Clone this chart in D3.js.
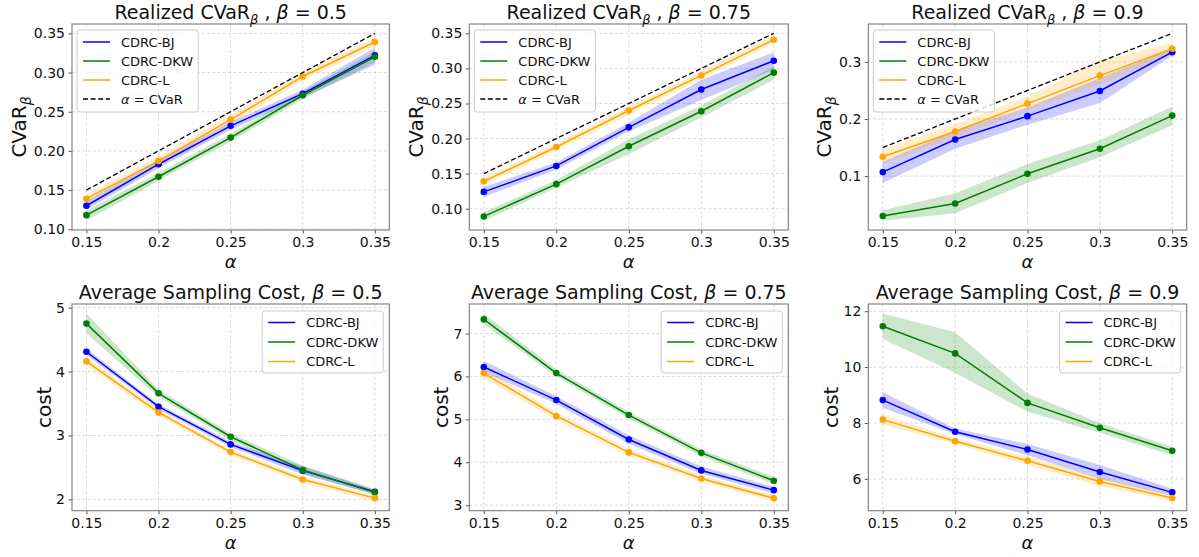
<!DOCTYPE html>
<html><head><meta charset="utf-8">
<script src="https://cdn.jsdelivr.net/npm/d3@7"></script>
<style>
body{margin:0;background:#fff;}
svg{font-family:"DejaVu Sans",sans-serif;}
</style></head><body>
<svg id="chart" width="1199" height="557"></svg>
<script>
// ---------- data ----------
const alphas = [0.15, 0.2, 0.25, 0.3, 0.35];
const alphaTickLabels = ["0.15", "0.2", "0.25", "0.3", "0.35"];
const betas = ["0.5", "0.75", "0.9"];
const seriesNames = ["CDRC-BJ", "CDRC-DKW", "CDRC-L"];
const identityLabel = "CVaR";

// Realized CVaR, beta = 0.5
const cvar05BJ    = [0.130, 0.183, 0.232, 0.273, 0.322];
const cvar05BJLo  = [0.125, 0.178, 0.227, 0.268, 0.310];
const cvar05BJHi  = [0.136, 0.189, 0.237, 0.278, 0.332];
const cvar05DKW   = [0.118, 0.167, 0.217, 0.271, 0.320];
const cvar05DKWLo = [0.111, 0.162, 0.212, 0.266, 0.313];
const cvar05DKWHi = [0.124, 0.172, 0.222, 0.276, 0.327];
const cvar05L     = [0.139, 0.187, 0.240, 0.295, 0.339];
const cvar05LLo   = [0.133, 0.181, 0.234, 0.290, 0.333];
const cvar05LHi   = [0.145, 0.193, 0.246, 0.300, 0.345];

// Realized CVaR, beta = 0.75
const cvar075BJ    = [0.124, 0.161, 0.216, 0.270, 0.311];
const cvar075BJLo  = [0.117, 0.156, 0.210, 0.255, 0.298];
const cvar075BJHi  = [0.131, 0.166, 0.223, 0.284, 0.323];
const cvar075DKW   = [0.089, 0.135, 0.189, 0.239, 0.294];
const cvar075DKWLo = [0.083, 0.130, 0.178, 0.230, 0.284];
const cvar075DKWHi = [0.095, 0.141, 0.199, 0.247, 0.303];
const cvar075L     = [0.139, 0.188, 0.240, 0.290, 0.341];
const cvar075LLo   = [0.134, 0.183, 0.234, 0.285, 0.336];
const cvar075LHi   = [0.144, 0.193, 0.246, 0.296, 0.347];

// Realized CVaR, beta = 0.9
const cvar09BJ    = [0.107, 0.164, 0.205, 0.249, 0.317];
const cvar09BJLo  = [0.088, 0.148, 0.190, 0.228, 0.311];
const cvar09BJHi  = [0.125, 0.180, 0.220, 0.272, 0.324];
const cvar09DKW   = [0.030, 0.052, 0.104, 0.148, 0.206];
const cvar09DKWLo = [0.022, 0.035, 0.088, 0.133, 0.189];
const cvar09DKWHi = [0.040, 0.070, 0.121, 0.163, 0.222];
const cvar09L     = [0.134, 0.178, 0.227, 0.276, 0.323];
const cvar09LLo   = [0.121, 0.168, 0.214, 0.260, 0.314];
const cvar09LHi   = [0.147, 0.191, 0.240, 0.302, 0.333];

// Average sampling cost, beta = 0.5
const cost05BJ    = [4.31, 3.45, 2.86, 2.45, 2.12];
const cost05BJLo  = [4.26, 3.41, 2.82, 2.39, 2.08];
const cost05BJHi  = [4.36, 3.49, 2.90, 2.52, 2.16];
const cost05DKW   = [4.75, 3.66, 2.98, 2.46, 2.11];
const cost05DKWLo = [4.60, 3.60, 2.93, 2.40, 2.07];
const cost05DKWHi = [4.91, 3.72, 3.03, 2.53, 2.15];
const cost05L     = [4.16, 3.36, 2.74, 2.31, 2.02];
const cost05LLo   = [4.10, 3.31, 2.69, 2.26, 1.97];
const cost05LHi   = [4.22, 3.41, 2.78, 2.36, 2.06];

// Average sampling cost, beta = 0.75
const cost075BJ    = [6.22, 5.45, 4.53, 3.81, 3.35];
const cost075BJLo  = [6.10, 5.36, 4.43, 3.73, 3.27];
const cost075BJHi  = [6.36, 5.54, 4.63, 3.90, 3.43];
const cost075DKW   = [7.33, 6.08, 5.10, 4.22, 3.57];
const cost075DKWLo = [7.22, 6.00, 5.02, 4.14, 3.49];
const cost075DKWHi = [7.47, 6.16, 5.18, 4.30, 3.66];
const cost075L     = [6.08, 5.08, 4.23, 3.62, 3.16];
const cost075LLo   = [5.96, 4.99, 4.15, 3.55, 3.09];
const cost075LHi   = [6.20, 5.16, 4.31, 3.69, 3.23];

// Average sampling cost, beta = 0.9
const cost09BJ    = [8.82, 7.69, 7.05, 6.25, 5.52];
const cost09BJLo  = [8.55, 7.60, 6.85, 6.00, 5.40];
const cost09BJHi  = [9.10, 7.80, 7.25, 6.50, 5.65];
const cost09DKW   = [11.46, 10.49, 8.72, 7.83, 7.01];
const cost09DKWLo = [11.00, 9.80, 8.40, 7.65, 6.85];
const cost09DKWHi = [11.92, 11.25, 9.05, 8.00, 7.15];
const cost09L     = [8.12, 7.35, 6.65, 5.91, 5.32];
const cost09LLo   = [7.95, 7.25, 6.50, 5.75, 5.20];
const cost09LHi   = [8.30, 7.45, 6.80, 6.05, 5.45];

// y tick values / labels
const cvarTicksA = [0.10, 0.15, 0.20, 0.25, 0.30, 0.35];
const cvarTickLabelsA = ["0.10", "0.15", "0.20", "0.25", "0.30", "0.35"];
const cvarTicksB = [0.1, 0.2, 0.3];
const cvarTickLabelsB = ["0.1", "0.2", "0.3"];
const costTicks05 = [2, 3, 4, 5];
const costTicks075 = [3, 4, 5, 6, 7];
const costTicks09 = [6, 8, 10, 12];

// ---------- styling / layout ----------
const seriesColors = ["#0000ff", "#008000", "#ffa500"];
const colLeft = [72, 469.3, 868.3];
const colRight = [389.3, 788.3, 1186.7];
const rowTop = [24, 304];
const rowBottom = [230, 510.7];

const mk = (m, lo, hi) => alphas.map((a, i) => ({a, v: m[i], lo: lo[i], hi: hi[i]}));

const panels = [
  {row: 0, col: 0, kind: "cvar", beta: betas[0], ticks: cvarTicksA, tickLabels: cvarTickLabelsA,
   series: [mk(cvar05BJ, cvar05BJLo, cvar05BJHi), mk(cvar05DKW, cvar05DKWLo, cvar05DKWHi), mk(cvar05L, cvar05LLo, cvar05LHi)]},
  {row: 0, col: 1, kind: "cvar", beta: betas[1], ticks: cvarTicksA, tickLabels: cvarTickLabelsA,
   series: [mk(cvar075BJ, cvar075BJLo, cvar075BJHi), mk(cvar075DKW, cvar075DKWLo, cvar075DKWHi), mk(cvar075L, cvar075LLo, cvar075LHi)]},
  {row: 0, col: 2, kind: "cvar", beta: betas[2], ticks: cvarTicksB, tickLabels: cvarTickLabelsB,
   series: [mk(cvar09BJ, cvar09BJLo, cvar09BJHi), mk(cvar09DKW, cvar09DKWLo, cvar09DKWHi), mk(cvar09L, cvar09LLo, cvar09LHi)]},
  {row: 1, col: 0, kind: "cost", beta: betas[0], ticks: costTicks05, tickLabels: costTicks05.map(String),
   series: [mk(cost05BJ, cost05BJLo, cost05BJHi), mk(cost05DKW, cost05DKWLo, cost05DKWHi), mk(cost05L, cost05LLo, cost05LHi)]},
  {row: 1, col: 1, kind: "cost", beta: betas[1], ticks: costTicks075, tickLabels: costTicks075.map(String),
   series: [mk(cost075BJ, cost075BJLo, cost075BJHi), mk(cost075DKW, cost075DKWLo, cost075DKWHi), mk(cost075L, cost075LLo, cost075LHi)]},
  {row: 1, col: 2, kind: "cost", beta: betas[2], ticks: costTicks09, tickLabels: costTicks09.map(String),
   series: [mk(cost09BJ, cost09BJLo, cost09BJHi), mk(cost09DKW, cost09DKWLo, cost09DKWHi), mk(cost09L, cost09LLo, cost09LHi)]}
];

const svg = d3.select("#chart");
svg.append("rect").attr("width", 1199).attr("height", 557).attr("fill", "#fff");

panels.forEach((p, pi) => {
  const L = colLeft[p.col], R = colRight[p.col], T = rowTop[p.row], B = rowBottom[p.row];
  const g = svg.append("g");

  // x domain with 5% margins
  const xPad = (alphas[alphas.length - 1] - alphas[0]) * 0.05;
  const x = d3.scaleLinear().domain([alphas[0] - xPad, alphas[alphas.length - 1] + xPad]).range([L, R]);

  // y domain: data extent (+ identity line) with 5% margins
  let ymin = d3.min(p.series.flat(), d => d.lo), ymax = d3.max(p.series.flat(), d => d.hi);
  if (p.kind === "cvar") { ymin = Math.min(ymin, alphas[0]); ymax = Math.max(ymax, alphas[alphas.length - 1]); }
  const yPad = (ymax - ymin) * 0.05;
  const y = d3.scaleLinear().domain([ymin - yPad, ymax + yPad]).range([B, T]);

  // grid
  g.append("g").selectAll("line").data(alphas).join("line")
    .attr("x1", d => x(d)).attr("x2", d => x(d)).attr("y1", T).attr("y2", B)
    .attr("stroke", "#d0d0d0").attr("stroke-width", 0.8).attr("stroke-dasharray", "3,2.2");
  g.append("g").selectAll("line").data(p.ticks).join("line")
    .attr("x1", L).attr("x2", R).attr("y1", d => y(d)).attr("y2", d => y(d))
    .attr("stroke", "#d0d0d0").attr("stroke-width", 0.8).attr("stroke-dasharray", "3,2.2");

  const clipId = "clip" + pi;
  g.append("clipPath").attr("id", clipId).append("rect")
    .attr("x", L).attr("y", T).attr("width", R - L).attr("height", B - T);
  const plot = g.append("g").attr("clip-path", `url(#${clipId})`);

  const area = d3.area().x(d => x(d.a)).y0(d => y(d.lo)).y1(d => y(d.hi));
  const line = d3.line().x(d => x(d.a)).y(d => y(d.v));

  p.series.forEach((s, si) => {
    plot.append("path").datum(s).attr("d", area)
      .attr("fill", seriesColors[si]).attr("fill-opacity", 0.2).attr("stroke", "none");
  });
  p.series.forEach((s, si) => {
    plot.append("path").datum(s).attr("d", line)
      .attr("fill", "none").attr("stroke", seriesColors[si]).attr("stroke-width", 1.5);
    plot.append("g").selectAll("circle").data(s).join("circle")
      .attr("cx", d => x(d.a)).attr("cy", d => y(d.v)).attr("r", 3.3)
      .attr("fill", seriesColors[si]);
  });
  if (p.kind === "cvar") {
    const ends = [alphas[0], alphas[alphas.length - 1]];
    plot.append("path").datum(ends)
      .attr("d", d3.line().x(d => x(d)).y(d => y(d)))
      .attr("fill", "none").attr("stroke", "#000").attr("stroke-width", 1.3)
      .attr("stroke-dasharray", "5,2.6");
  }

  // axes
  const xAxis = g.append("g").attr("transform", `translate(0,${B})`)
    .call(d3.axisBottom(x).tickValues(alphas).tickFormat((d, i) => alphaTickLabels[i])
      .tickSize(3.5).tickSizeOuter(0).tickPadding(4));
  const yAxis = g.append("g").attr("transform", `translate(${L},0)`)
    .call(d3.axisLeft(y).tickValues(p.ticks).tickFormat((d, i) => p.tickLabels[i])
      .tickSize(3.5).tickSizeOuter(0).tickPadding(3.5));
  [xAxis, yAxis].forEach(a => {
    a.select(".domain").remove();
    a.selectAll(".tick line").attr("stroke", "#444").attr("stroke-width", 0.9);
    a.selectAll(".tick text").attr("fill", "#111").attr("font-size", 14)
      .attr("font-family", "DejaVu Sans");
  });

  // spines
  g.append("rect").attr("x", L).attr("y", T).attr("width", R - L).attr("height", B - T)
    .attr("fill", "none").attr("stroke", "#7a7a7a").attr("stroke-width", 1.1);

  // title
  const cx = (L + R) / 2;
  const title = g.append("text").attr("x", cx).attr("y", T - 5).attr("text-anchor", "middle")
    .attr("font-size", 19).attr("fill", "#111");
  if (p.kind === "cvar") {
    title.append("tspan").text("Realized CVaR");
    title.append("tspan").attr("dy", 5).attr("font-size", 13).attr("font-style", "italic").text("β");
    title.append("tspan").attr("dy", -5).text(" , ");
    title.append("tspan").attr("font-style", "italic").text("β");
    title.append("tspan").text(" = " + p.beta);
  } else {
    title.append("tspan").text("Average Sampling Cost, ");
    title.append("tspan").attr("font-style", "italic").text("β");
    title.append("tspan").text(" = " + p.beta);
  }

  // x label
  g.append("text").attr("x", cx).attr("y", B + 38).attr("text-anchor", "middle")
    .attr("font-size", 18).attr("font-style", "italic").attr("fill", "#111").text("α");

  // y label
  let maxTW = 0;
  yAxis.selectAll(".tick text").each(function () { maxTW = Math.max(maxTW, this.getComputedTextLength()); });
  const lx = L - maxTW - (p.kind === "cvar" ? 15 : 12);
  const cy = (T + B) / 2;
  const ylab = g.append("text").attr("transform", `translate(${lx},${cy}) rotate(-90)`)
    .attr("text-anchor", "middle").attr("font-size", 20).attr("fill", "#111");
  if (p.kind === "cvar") {
    ylab.append("tspan").text("CVaR");
    ylab.append("tspan").attr("dy", 5).attr("font-size", 14).attr("font-style", "italic").text("β");
  } else {
    ylab.text("cost");
  }

  // legend
  const entries = seriesNames.map((n, i) => ({name: n, color: seriesColors[i], dash: null}));
  if (p.kind === "cvar") entries.push({name: null, color: "#000", dash: "5,2.6"});
  const lg = g.append("g");
  const box = lg.append("rect");
  const texts = [];
  const step = p.kind === "cvar" ? 19 : 19.5;
  const first = p.kind === "cvar" ? 12 : 11.5;
  entries.forEach((e, i) => {
    const ey = first + i * step;
    lg.append("line").attr("x1", 6).attr("x2", 33).attr("y1", ey).attr("y2", ey)
      .attr("stroke", e.color).attr("stroke-width", 1.5)
      .attr("stroke-dasharray", e.dash);
    const t = lg.append("text").attr("x", 44).attr("y", ey + 4.6).attr("font-size", 13).attr("fill", "#111");
    if (e.name) t.text(e.name);
    else {
      t.append("tspan").attr("font-style", "italic").text("α");
      t.append("tspan").text(" = " + identityLabel);
    }
    texts.push(t);
  });
  let maxLW = 0;
  texts.forEach(t => { maxLW = Math.max(maxLW, t.node().getComputedTextLength()); });
  const bw = 44 + maxLW + 5;
  const bh = first * 2 + (entries.length - 1) * step - (p.kind === "cvar" ? -1 : 0);
  box.attr("width", bw).attr("height", bh).attr("rx", 3)
    .attr("fill", "#fff").attr("fill-opacity", 0.8).attr("stroke", "#cccccc").attr("stroke-width", 1);
  if (p.kind === "cvar") lg.attr("transform", `translate(${L + 5},${T + 6})`);
  else lg.attr("transform", `translate(${R - 6 - bw},${T + 7})`);
});
</script>
</body></html>
